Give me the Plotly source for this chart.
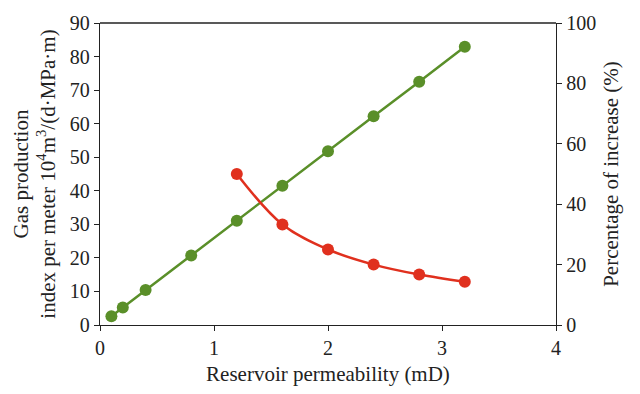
import plotly.graph_objects as go

# Reservoir permeability (mD)
perm_all = [0.1, 0.2, 0.4, 0.8, 1.2, 1.6, 2.0, 2.4, 2.8, 3.2]
# Gas production index per meter, 10^4 m^3/(d·MPa·m)
gas_index = [2.6, 5.2, 10.4, 20.7, 31.1, 41.5, 51.8, 62.2, 72.5, 82.9]

perm_inc = [1.2, 1.6, 2.0, 2.4, 2.8, 3.2]
# Percentage of increase (%)
pct_increase = [50.0, 33.3, 25.0, 20.0, 16.7, 14.3]

x_ticks = [0, 1, 2, 3, 4]
left_ticks = [0, 10, 20, 30, 40, 50, 60, 70, 80, 90]
right_ticks = [0, 20, 40, 60, 80, 100]

GREEN = "#5a8f29"
RED = "#e0301e"
FONT = "Liberation Serif"
INK = "#222"

fig = go.Figure()
fig.add_trace(go.Scatter(
    x=perm_all, y=gas_index, mode="lines+markers",
    line=dict(color=GREEN, width=2.5),
    marker=dict(color=GREEN, size=12),
    yaxis="y", showlegend=False,
))
fig.add_trace(go.Scatter(
    x=perm_inc, y=pct_increase, mode="lines+markers",
    line=dict(color=RED, width=2.5, shape="spline", smoothing=1.0),
    marker=dict(color=RED, size=12),
    yaxis="y2", showlegend=False,
))

axis_common = dict(
    showgrid=False, zeroline=False, showline=True, linecolor=INK,
    linewidth=1.3, ticks="outside", ticklen=5, tickwidth=1.2, tickcolor=INK,
    tickfont=dict(family=FONT, size=20, color=INK),
)
title_font = dict(family=FONT, size=21, color=INK)

fig.update_layout(
    width=640, height=394,
    margin=dict(l=100, r=84, t=14, b=68),
    paper_bgcolor="white", plot_bgcolor="white",
    font=dict(family=FONT, color=INK),
    xaxis=dict(
        range=[0, 4], tickvals=x_ticks,
        title=dict(text="Reservoir permeability (mD)", font=title_font, standoff=8),
        **axis_common,
    ),
    yaxis=dict(
        range=[0, 90], tickvals=left_ticks,
        title=dict(
            text="Gas production<br>index per meter 10<sup>4</sup>m<sup>3</sup>/(d·MPa·m)",
            font=title_font, standoff=8,
        ),
        **axis_common,
    ),
    yaxis2=dict(
        range=[0, 100], tickvals=right_ticks, overlaying="y", side="right",
        title=dict(text="Percentage of increase (%)", font=title_font, standoff=8),
        **axis_common,
    ),
    shapes=[dict(
        type="line", xref="paper", yref="paper", x0=0, x1=1, y0=1, y1=1,
        line=dict(color=INK, width=1.3),
    )],
)

fig.write_html("out.html")
